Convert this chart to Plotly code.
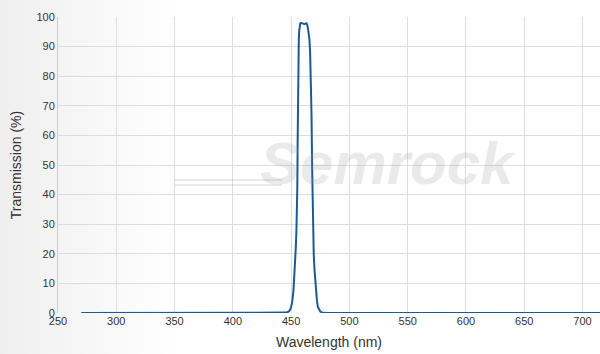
import base64
import plotly.graph_objects as go

wavelength = [270, 440, 444, 446, 448, 449, 450, 451, 452, 452.5, 453, 453.5, 454, 454.5, 455,
              455.3, 455.6, 456, 456.3, 456.6, 457, 457.4, 457.8, 458.5, 460, 461.5, 463, 463.7,
              464.3, 465, 465.7, 466.3, 467, 467.5, 468, 468.3, 468.6, 469, 469.4, 470, 470.8,
              471.5, 472.2, 473, 474, 475, 476.5, 478, 482, 720]
transmission = [0, 0, 0.05, 0.15, 0.5, 1, 2, 4, 7.5, 10.5, 14, 18, 22, 27, 33,
                42, 58, 78, 87, 92.5, 95.5, 97, 97.8, 98, 97.8, 97.6, 97.9, 97.5,
                96.5, 95, 92.5, 88, 79, 67, 50, 40, 33, 26, 20, 15, 10,
                6.5, 4, 2, 1, 0.5, 0.2, 0.05, 0, 0]

x_ticks = [250, 300, 350, 400, 450, 500, 550, 600, 650, 700]
y_ticks = [0, 10, 20, 30, 40, 50, 60, 70, 80, 90, 100]

fig = go.Figure()
fig.add_trace(go.Scatter(x=wavelength, y=transmission, mode="lines",
                         line=dict(color="#1b5a94", width=2), hoverinfo="x+y"))

svg = ('<svg xmlns="http://www.w3.org/2000/svg" width="600" height="354">'
       '<defs><linearGradient id="g" x1="0" y1="0" x2="1" y2="0">'
       '<stop offset="0" stop-color="#efefef"/><stop offset="0.3" stop-color="#ffffff"/>'
       '</linearGradient></defs><rect width="600" height="354" fill="url(#g)"/></svg>')
src = "data:image/svg+xml;base64," + base64.b64encode(svg.encode()).decode()

L, R, T, B = 58, 0, 17, 41
pw, ph = 600 - L - R, 354 - T - B
fig.add_layout_image(dict(source=src, xref="paper", yref="paper", x=-L / pw, y=1 + T / ph,
                          sizex=600 / pw, sizey=354 / ph, sizing="stretch", layer="below",
                          xanchor="left", yanchor="top"))


def px(xp):
    return (xp - L) / pw


def py(yp):
    return (354 - B - yp) / ph


wm = "rgba(160,160,160,0.22)"
fig.add_annotation(text="<b><i>Semrock</i></b>", xref="paper", yref="paper", x=px(388), y=py(163),
                   showarrow=False, font=dict(family="Liberation Sans", size=60, color=wm))
for yy in (180, 185):
    fig.add_shape(type="line", xref="paper", yref="paper", x0=px(175), x1=px(282),
                  y0=py(yy), y1=py(yy), line=dict(color=wm, width=2))

fig.update_layout(
    width=600, height=354, margin=dict(l=L, r=R, t=T, b=B),
    paper_bgcolor="rgba(0,0,0,0)", plot_bgcolor="white", showlegend=False,
    font=dict(family="Liberation Sans", size=12, color="#333333"),
    xaxis=dict(range=[250, 715], tickvals=x_ticks, showgrid=True, gridcolor="#dddddd",
               zeroline=False, showline=False, ticks="", title=dict(text="Wavelength (nm)", standoff=11),
               tickfont=dict(size=11)),
    yaxis=dict(range=[0, 100], tickvals=y_ticks, showgrid=True, gridcolor="#dddddd",
               zeroline=False, showline=True, linecolor="#cccccc", ticks="",
               title=dict(text="Transmission (%)", standoff=11), tickfont=dict(size=11)),
)

fig.write_html("out.html")
